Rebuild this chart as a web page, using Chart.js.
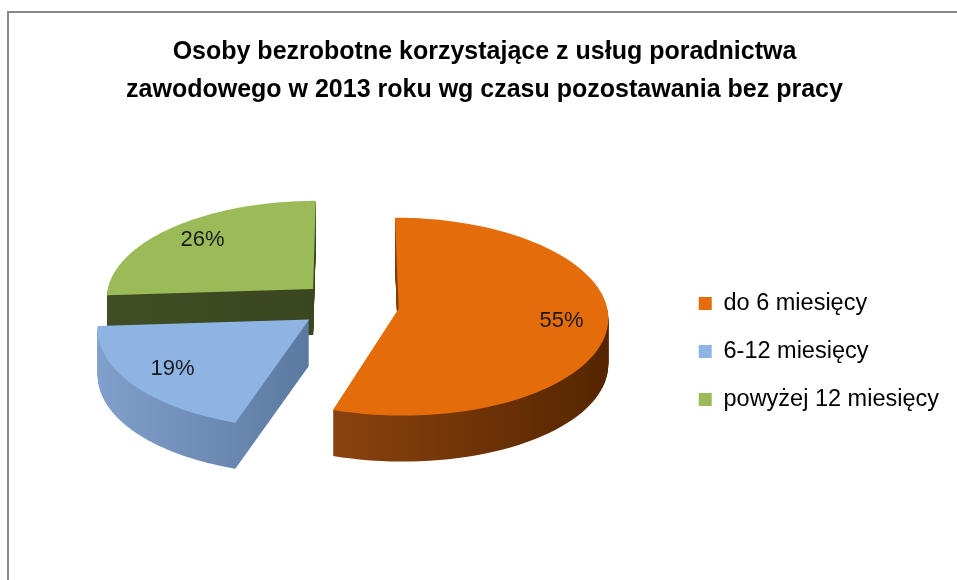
<!DOCTYPE html>
<html>
<head>
<meta charset="utf-8">
<script src="https://cdn.jsdelivr.net/npm/chart.js@4"></script>
<style>
  html, body { margin: 0; padding: 0; background: #fff; overflow: hidden; }
  #frame { position: absolute; left: 7px; top: 11px; width: 970px; height: 590px; border: 2px solid #888; }
  #wrap { position: absolute; left: 0; top: 0; width: 957px; height: 580px; }
</style>
</head>
<body>
<div id="frame"></div>
<div id="wrap"><canvas id="pie"></canvas></div>
<script>
const titleLines = ["Osoby bezrobotne korzystające z usług poradnictwa", "zawodowego w 2013 roku wg czasu pozostawania bez pracy"];
const categories = ["do 6 miesięcy", "6-12 miesięcy", "powyżej 12 miesięcy"];
const shares = [55, 19, 26];
const topColors = ["#e46c0a", "#8eb4e3", "#9bbb59"];
const sideColors = [["#8a430f", "#552500"], ["#819fcc", "#5c7aa0"], ["#404d25", "#3a461f"]];

const FONT = "'Liberation Sans', Arial, sans-serif";
const TILT = 0.47;   // vertical squash of the pie top
const PERSP = 2600;  // viewer distance, front of the pie looks bigger
const DEPTH = 46;    // thickness in px
const LIFT = 46;     // pie centre sits above chart area centre
const DX = 2;

// draws the pie as a tilted 3d disc, back slices first
const pie3d = {
  id: 'pie3d',
  beforeDatasetsDraw(chart) {
    const ctx = chart.ctx;
    const arcs = chart.getDatasetMeta(0).data;
    const total = shares.reduce((a, b) => a + b, 0);
    const cx = arcs[0].x, cy = arcs[0].y;
    const X = cx + DX, Y = cy - LIFT;

    const project = (x, y) => {
      const u = x - cx, v = y - cy;
      const k = 1 / (1 - v / PERSP);
      return [X + u * k, Y + v * TILT * k];
    };
    const geo = el => {
      const p = el.getProps(['x', 'y', 'startAngle', 'endAngle', 'outerRadius'], true);
      const mid = (p.startAngle + p.endAngle) / 2;
      const off = el.options.offset || 0;
      return { ...p, mid, px: p.x + Math.cos(mid) * off, py: p.y + Math.sin(mid) * off };
    };
    const outline = g => {
      const pts = [project(g.px, g.py)];
      const n = 80;
      for (let s = 0; s <= n; s++) {
        const a = g.startAngle + (g.endAngle - g.startAngle) * s / n;
        pts.push(project(g.px + Math.cos(a) * g.outerRadius, g.py + Math.sin(a) * g.outerRadius));
      }
      return pts;
    };
    const path = (pts, dy) => {
      ctx.beginPath();
      pts.forEach(([x, y], j) => j ? ctx.lineTo(x, y + dy) : ctx.moveTo(x, y + dy));
      ctx.closePath();
    };

    [2, 1, 0].forEach(i => {
      const pts = outline(geo(arcs[i]));
      const xs = pts.map(p => p[0]);
      const grad = ctx.createLinearGradient(Math.min(...xs), 0, Math.max(...xs), 0);
      grad.addColorStop(0, sideColors[i][0]);
      grad.addColorStop(1, sideColors[i][1]);
      ctx.fillStyle = grad;
      for (let k = DEPTH; k >= 1; k--) { path(pts, k); ctx.fill(); }
      path(pts, 0);
      ctx.fillStyle = topColors[i];
      ctx.fill();
    });

    ctx.save();
    ctx.font = '22px ' + FONT;
    ctx.fillStyle = '#1a1a1a';
    ctx.textAlign = 'center';
    ctx.textBaseline = 'middle';
    arcs.forEach((el, i) => {
      const g = geo(el);
      const rr = g.outerRadius * 0.78;
      const [x, y] = project(g.px + Math.cos(g.mid) * rr, g.py + Math.sin(g.mid) * rr);
      ctx.fillText(Math.round(shares[i] / total * 100) + '%', x, y);
    });
    ctx.restore();
    return false;
  }
};

new Chart(document.getElementById('pie'), {
  type: 'pie',
  data: {
    labels: categories,
    datasets: [{ data: shares, backgroundColor: topColors, borderWidth: 0, offset: 50 }]
  },
  options: {
    responsive: true,
    maintainAspectRatio: false,
    animation: false,
    radius: 208,
    layout: { padding: { left: 20, right: 8, top: 0, bottom: 7 } },
    plugins: {
      tooltip: { enabled: false },
      title: {
        display: true,
        text: titleLines,
        color: '#000',
        font: { family: FONT, size: 25, weight: 'bold', lineHeight: 1.52 },
        padding: { top: 33, bottom: 20 }
      },
      legend: {
        position: 'right',
        title: { display: true, text: ' ', font: { size: 10 }, padding: { top: 0, bottom: 118 } },
        labels: {
          boxWidth: 13, boxHeight: 13, padding: 24.5,
          color: '#000',
          font: { family: FONT, size: 23.5 }
        }
      }
    }
  },
  plugins: [pie3d]
});
</script>
</body>
</html>
